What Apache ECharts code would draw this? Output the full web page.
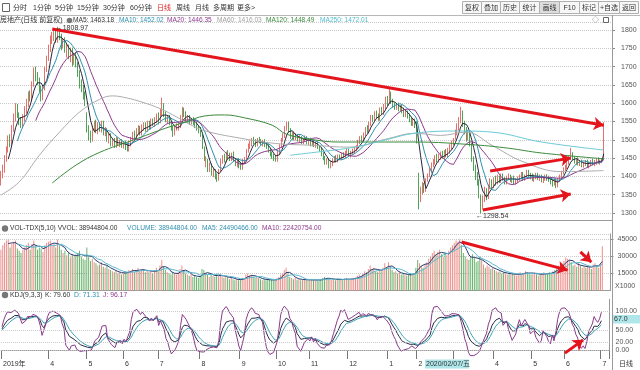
<!DOCTYPE html>
<html><head><meta charset="utf-8">
<script src="https://cdn.jsdelivr.net/npm/echarts@6/dist/echarts.min.js"></script>
<style>html,body{margin:0;padding:0;background:#fff}#c{width:640px;height:370px}</style>
</head><body><div id="c"></div>
<script>
// ---- month layout of the category axis ----
const monthLabels = ['2019年','4','5','6','7','8','9','10','11','12','1','2','3','4','5','6','7'];
const monthDays   = [26,21,20,19,23,22,20,18,21,22,16,20,22,21,18,20,1];

// ---- daily candles ----
const closes = [
1400,1420,1445,1470,1500,1490,1530,1560,1585,1570,
1550,1545,1560,1580,1600,1620,1615,1650,1685,1670,
1660,1640,1620,1640,1690,1720,1750,1770,1780,1790,
1775,1795,1780,1760,1770,1745,1750,1735,1745,1720,
1730,1705,1680,1650,1640,1620,1600,1530,1510,1500,
1530,1545,1525,1540,1530,1545,1520,1525,1500,1510,
1490,1495,1485,1500,1490,1495,1485,1490,1480,1475,
1490,1500,1515,1510,1525,1530,1520,1535,1540,1530,
1545,1535,1550,1545,1555,1565,1550,1575,1590,1570,
1555,1560,1545,1530,1520,1530,1535,1540,1560,1580,
1570,1555,1560,1550,1555,1545,1540,1530,1525,1515,
1480,1450,1440,1420,1430,1410,1415,1400,1395,1415,
1440,1450,1445,1460,1455,1450,1460,1445,1435,1440,
1430,1425,1440,1445,1470,1480,1490,1500,1495,1490,
1500,1495,1490,1495,1485,1480,1470,1460,1455,1450,
1445,1465,1480,1500,1510,1530,1545,1525,1510,1515,
1505,1510,1500,1505,1495,1500,1505,1495,1500,1490,
1495,1485,1490,1480,1475,1460,1450,1440,1445,1430,
1435,1445,1450,1445,1455,1450,1460,1455,1465,1470,
1460,1465,1470,1475,1480,1495,1505,1500,1515,1530,
1525,1545,1560,1555,1570,1565,1560,1580,1575,1590,
1610,1600,1625,1605,1595,1590,1595,1585,1590,1580,
1570,1575,1565,1555,1545,1550,1540,1495,1345,1360,
1375,1365,1390,1400,1420,1430,1440,1450,1445,1455,
1460,1455,1465,1460,1470,1480,1490,1500,1520,1535,
1555,1570,1545,1530,1510,1515,1490,1450,1430,1400,
1390,1350,1320,1340,1360,1345,1370,1385,1375,1390,
1385,1395,1390,1400,1395,1385,1395,1400,1390,1395,
1385,1390,1395,1400,1405,1395,1400,1410,1405,1400,
1395,1400,1405,1395,1400,1390,1395,1400,1395,1390,
1385,1380,1390,1375,1390,1400,1410,1420,1425,1440,
1450,1460,1450,1440,1445,1435,1440,1430,1435,1440,
1430,1435,1440,1435,1440,1445,1440,1440,1445,1540];
const opens = [
1385,1402,1418,1448,1472,1505,1492,1532,1562,1590,
1568,1552,1542,1558,1582,1598,1625,1612,1652,1690,
1672,1665,1642,1615,1640,1692,1722,1748,1772,1778,
1792,1772,1800,1782,1755,1772,1740,1755,1730,1748,
1715,1732,1708,1682,1655,1642,1625,1570,1525,1515,
1498,1528,1548,1522,1542,1528,1548,1518,1528,1498,
1512,1488,1497,1482,1502,1488,1497,1482,1492,1482,
1472,1488,1498,1518,1508,1522,1532,1518,1532,1542,
1528,1548,1532,1552,1542,1552,1568,1548,1572,1595,
1572,1552,1562,1548,1532,1518,1532,1532,1538,1558,
1582,1572,1552,1562,1548,1558,1548,1542,1532,1528,
1512,1478,1438,1442,1418,1432,1408,1418,1402,1392,
1418,1442,1452,1443,1462,1457,1448,1462,1445,1432,
1442,1432,1422,1442,1448,1470,1482,1488,1502,1495,
1488,1502,1497,1488,1497,1487,1482,1472,1462,1458,
1452,1448,1467,1482,1502,1512,1532,1548,1528,1508,
1517,1503,1512,1498,1507,1493,1502,1507,1493,1502,
1488,1497,1483,1492,1482,1477,1462,1452,1438,1447,
1428,1433,1443,1452,1443,1457,1448,1462,1453,1463,
1472,1458,1463,1468,1473,1478,1493,1507,1498,1512,
1532,1523,1543,1562,1553,1572,1567,1558,1582,1573,
1588,1612,1602,1628,1607,1597,1588,1597,1583,1592,
1582,1568,1577,1567,1557,1543,1552,1545,1395,1338,
1358,1377,1362,1392,1402,1418,1432,1438,1452,1443,
1453,1462,1453,1467,1458,1468,1478,1492,1505,1518,
1532,1552,1575,1547,1528,1505,1512,1488,1448,1428,
1402,1388,1345,1318,1342,1362,1345,1372,1387,1373,
1392,1383,1397,1388,1402,1393,1383,1397,1402,1388,
1397,1383,1388,1393,1398,1407,1393,1402,1412,1403,
1402,1393,1398,1407,1393,1402,1388,1393,1402,1397,
1392,1387,1378,1392,1373,1388,1398,1408,1422,1423,
1438,1448,1462,1452,1438,1447,1433,1442,1428,1433,
1442,1428,1433,1442,1433,1438,1447,1438,1442,1450];
const highs = [
1415,1432,1458,1482,1512,1515,1540,1572,1600,1598,
1575,1562,1570,1592,1612,1632,1635,1660,1698,1700,
1685,1670,1648,1650,1700,1730,1760,1785,1795,1802,
1800,1808.97,1806,1790,1778,1780,1762,1760,1752,1752,
1738,1740,1712,1690,1665,1650,1632,1575,1540,1525,
1538,1552,1555,1548,1548,1552,1552,1535,1532,1518,
1518,1502,1505,1508,1506,1500,1502,1497,1498,1490,
1498,1508,1522,1525,1532,1540,1538,1542,1548,1548,
1552,1552,1558,1558,1562,1572,1575,1585,1615,1600,
1578,1568,1568,1552,1538,1538,1545,1548,1568,1590,
1588,1578,1568,1568,1560,1562,1552,1548,1538,1535,
1515,1482,1455,1448,1438,1435,1422,1420,1408,1420,
1448,1458,1462,1468,1472,1465,1465,1468,1450,1448,
1450,1440,1448,1453,1475,1490,1498,1505,1508,1502,
1505,1508,1502,1500,1502,1492,1488,1478,1468,1462,
1458,1470,1488,1505,1518,1538,1550,1550,1532,1522,
1522,1518,1515,1512,1510,1505,1512,1510,1505,1506,
1502,1500,1495,1495,1486,1480,1466,1456,1450,1450,
1442,1450,1456,1458,1460,1460,1465,1466,1470,1476,
1475,1470,1476,1480,1486,1500,1510,1512,1520,1535,
1540,1550,1568,1568,1578,1580,1572,1588,1590,1598,
1618,1620,1640,1632,1612,1602,1600,1602,1596,1596,
1588,1582,1580,1572,1562,1558,1558,1550,1410,1372,
1385,1382,1395,1408,1425,1438,1448,1458,1462,1462,
1468,1470,1472,1475,1478,1488,1498,1505,1528,1545,
1562,1590,1580,1552,1535,1525,1520,1492,1455,1432,
1412,1392,1350,1348,1372,1368,1378,1395,1392,1398,
1402,1405,1402,1408,1408,1398,1402,1408,1405,1400,
1402,1395,1400,1405,1412,1412,1405,1418,1418,1410,
1408,1405,1410,1410,1405,1405,1400,1405,1406,1402,
1398,1392,1395,1395,1395,1405,1415,1425,1432,1446,
1458,1478,1466,1455,1450,1452,1445,1446,1440,1445,
1446,1440,1445,1448,1445,1450,1452,1446,1450,1548];
const lows = [
1375,1395,1410,1440,1465,1480,1485,1522,1550,1560,
1540,1532,1535,1550,1572,1590,1605,1605,1645,1660,
1650,1630,1605,1608,1635,1685,1715,1740,1762,1770,
1765,1765,1772,1745,1750,1738,1725,1720,1712,1700,
1705,1698,1672,1640,1630,1610,1592,1520,1498,1492,
1495,1520,1518,1515,1522,1520,1512,1510,1495,1490,
1482,1482,1478,1478,1485,1480,1478,1476,1472,1468,
1468,1482,1495,1502,1502,1515,1512,1512,1525,1522,
1522,1528,1528,1538,1535,1545,1542,1545,1565,1562,
1548,1545,1540,1525,1508,1512,1525,1525,1532,1550,
1562,1548,1548,1542,1542,1540,1532,1525,1518,1508,
1475,1442,1425,1412,1412,1402,1398,1392,1385,1388,
1412,1435,1438,1438,1448,1442,1442,1440,1428,1425,
1422,1418,1418,1435,1445,1465,1475,1482,1488,1480,
1482,1490,1485,1482,1480,1475,1465,1455,1448,1442,
1440,1440,1460,1478,1495,1505,1525,1520,1502,1500,
1498,1498,1495,1492,1488,1488,1495,1488,1486,1482,
1482,1480,1478,1475,1468,1455,1444,1432,1432,1422,
1422,1428,1438,1438,1438,1445,1445,1450,1450,1458,
1455,1452,1458,1462,1468,1475,1488,1495,1495,1508,
1518,1518,1538,1548,1548,1558,1552,1552,1568,1568,
1582,1592,1598,1598,1588,1582,1582,1578,1578,1572,
1562,1562,1558,1548,1538,1538,1532,1490,1310,1330,
1350,1355,1358,1385,1398,1412,1425,1432,1438,1438,
1445,1448,1448,1452,1452,1462,1472,1485,1500,1512,
1525,1545,1535,1515,1495,1498,1482,1440,1415,1390,
1375,1340,1298.54,1310,1330,1335,1338,1365,1365,1368,
1375,1378,1382,1382,1388,1378,1378,1390,1385,1382,
1378,1378,1382,1388,1392,1388,1388,1398,1398,1392,
1388,1385,1392,1390,1388,1384,1382,1388,1388,1385,
1378,1372,1375,1368,1370,1385,1395,1405,1415,1420,
1432,1445,1445,1435,1432,1430,1428,1425,1424,1428,
1425,1422,1428,1430,1428,1432,1435,1432,1436,1448];
// volume in units of 1000
const volumes = [
36000,40000,42000,44000,45000,38000,41000,43000,44000,37000,
35000,33000,36000,38000,40000,42000,36000,41000,44000,39000,
36000,38000,37000,34000,40000,42000,43000,44000,39000,41000,
38000,45000,40000,36000,33000,35000,31000,33000,29000,32000,
30000,31000,33000,35000,30000,28000,27000,38000,30000,26000,
28000,25000,24000,22000,23000,25000,21000,20000,22000,19000,
18000,17000,16000,18000,15000,16000,14000,15000,17000,16000,
18000,17000,19000,16000,18000,20000,17000,18000,19000,16000,
18000,16000,17000,15000,18000,20000,17000,22000,27000,21000,
18000,16000,15000,14000,16000,15000,14000,16000,19000,22000,
18000,15000,14000,13000,14000,12000,13000,12000,11000,13000,
19000,18000,15000,14000,12000,15000,13000,12000,14000,13000,
14000,12000,11000,13000,12000,10000,11000,10000,9000,10000,
9000,10000,11000,10000,14000,15000,13000,14000,12000,11000,
12000,11000,10000,9000,10000,9000,9500,10000,9000,8500,
9000,11000,12000,14000,15000,18000,20000,15000,12000,11000,
10000,11000,9500,10000,9000,9500,10000,9000,9500,9000,
10000,9000,9500,9000,8500,10000,11000,12000,10000,11000,
10000,9500,10000,9000,10500,9500,10000,9000,10500,11000,
10000,9500,10000,11000,11500,13000,14000,12000,15000,17000,
16000,19000,22000,18000,20000,17000,16000,19000,17000,20000,
24000,20000,25000,21000,18000,16000,17000,15000,16000,14000,
15000,14000,13000,14000,15000,13000,15000,20000,27000,24000,
22000,20000,23000,25000,28000,30000,33000,35000,31000,34000,
36000,32000,30000,33000,31000,35000,38000,40000,42000,44000,
43000,45000,40000,33000,30000,28000,27000,30000,32000,29000,
25000,26000,30000,27000,23000,20000,22000,21000,19000,20000,
18000,17000,16000,17000,15000,16000,15000,14000,15000,14000,
15000,14000,13000,15000,16000,14000,15000,17000,16000,15000,
14000,15000,16000,14000,13000,14000,15000,16000,14000,15000,
16000,15000,17000,18000,20000,22000,21000,24000,26000,29000,
28000,27000,25000,22000,23000,21000,24000,22000,20000,21000,
20000,22000,21000,19000,23000,24000,22000,20000,23000,38944.8];

// long moving averages: [candle index, value]
const ma60Pts = [[0,1349],[10,1385],[21,1458],[32,1521],[43,1576],[54,1611],[61,1620],[69,1614],[77,1603],[87,1585],[96,1562],[102,1545],[111,1525],[130,1505],[150,1490],[170,1485],[190,1480],[211,1503],[226,1518],[240,1512],[254,1521],[268,1485],[285,1440],[306,1413],[329,1416]];
const ma120Pts = [[28,1382],[41,1431],[54,1466],[72,1499],[90,1532],[101,1549],[111,1565],[122,1568],[133,1560],[148,1540],[156,1515],[171,1500],[184,1494],[226,1494],[259,1486],[277,1477],[295,1464],[329,1448]];
const ma250Pts = [[158,1458],[175,1468],[193,1480],[210,1500],[226,1518],[250,1524],[268,1521],[295,1494],[329,1472]];

// tick labels
const kdjTickLabels = [0,20,50,100];

// hand-drawn red annotations: [[index,value],[index,value]]
const priceArrows = [[[28,1803],[329,1540]],[[267,1415],[311,1450]],[[263,1308],[311,1352]]];
const volArrows = [[[252,42800],[310,18000]],[[317,34000],[323,25000]]];
const kdjArrows = [[[309,-8],[319,26]]];

// ---- build categories ----
const cats = [], catLabels = [];
monthLabels.forEach((m,k)=>{ for(let d=0; d<monthDays[k]; d++){ catLabels.push(d===0?m:''); cats.push(String(cats.length)); } });
for (let p=0;p<4;p++){ cats.push('p'+p); catLabels.push(''); }

function ma(arr, n){ return arr.map((v,i)=> i<n-1 ? '-' : +(arr.slice(i-n+1,i+1).reduce((a,b)=>a+b,0)/n).toFixed(2)); }
const kd = {K:[],D:[],J:[]};
(function(){ let k=50,d=50; for(let i=0;i<closes.length;i++){ const s=Math.max(0,i-8); let hh=-Infinity,ll=Infinity; for(let t=s;t<=i;t++){hh=Math.max(hh,highs[t]);ll=Math.min(ll,lows[t]);} const rsv = hh===ll?50:(closes[i]-ll)/(hh-ll)*100; k=(2*k+rsv)/3; d=(2*d+k)/3; kd.K.push(+k.toFixed(2)); kd.D.push(+d.toFixed(2)); kd.J.push(+(3*k-2*d).toFixed(2)); } })();

const UP='#e4716c', DOWN='#4fa354';
const candleData = closes.map((c,i)=>[opens[i],c,lows[i],highs[i]]);
const volData = volumes.map((v,i)=>({value:v, itemStyle:{color: closes[i]>=opens[i]?'#eb8f8a':'#6cb36e'}}));
const iMax = highs.indexOf(Math.max(...highs)), iMin = lows.indexOf(Math.min(...lows));

const FONT = '"Liberation Sans","Noto Sans CJK SC",sans-serif';
const f = s => s+'px '+FONT;
const arrowLine = arr => arr.map(a=>[{coord:a[0]},{coord:a[1]}]);
const redML = (arr) => ({silent:true, symbol:['none','arrow'], symbolSize:10, label:{show:false}, emphasis:{disabled:true},
  lineStyle:{color:'#e4141c', width:3, type:'solid'}, itemStyle:{color:'#e4141c'}, data: arrowLine(arr)});
const lbl = {fontSize:7, color:'#555', fontFamily:FONT};

const gridsY = [{top:22,height:198},{top:233.8,height:56.7},{top:299.3,height:58.5}];
const tickShow = (i)=> catLabels[i] !== '';

const xAxes = gridsY.map((g,gi)=>({type:'category', gridIndex:gi, data:cats, boundaryGap:true,
  axisLine:{show:true, lineStyle:{color:'#9a9a9a', width:1}},
  axisTick: gi===2 ? {show:true, interval:tickShow, length:9, lineStyle:{color:'#777'}} : {show:false},
  axisLabel: gi===2 ? {show:true, interval:tickShow, formatter:(v,idx)=>catLabels[idx], align:'left', padding:[0,0,0,1], margin:3, fontSize:7, color:'#333', fontFamily:FONT} : {show:false},
  splitLine:{show:false}}));

const dotted = {show:true, lineStyle:{color:'#c9c9c9', type:'dotted', width:1}};
const yAxes = [
 {type:'value', gridIndex:0, position:'right', min:1280.9, max:1821.9, minInterval:50, maxInterval:50, splitNumber:10, scale:true,
  axisLine:{show:true, lineStyle:{color:'#9a9a9a'}}, axisTick:{show:true,length:3,lineStyle:{color:'#888'}},
  axisLabel:Object.assign({showMinLabel:false, showMaxLabel:false, margin:9, formatter:v=>String(v)}, lbl), splitLine:dotted},
 {type:'value', gridIndex:1, position:'right', min:0, max:50000, interval:15000,
  axisLine:{show:true, lineStyle:{color:'#9a9a9a'}}, axisTick:{show:true,length:3,lineStyle:{color:'#888'}},
  axisLabel:Object.assign({showMinLabel:false, showMaxLabel:false, margin:7, formatter:v=> (v>0&&v<=45000)?String(v):''}, lbl), splitLine:dotted},
 {type:'value', gridIndex:2, position:'right', min:-20, max:130, interval:10,
  axisLine:{show:true, lineStyle:{color:'#9a9a9a'}}, axisTick:{show:false},
  axisLabel:Object.assign({margin:6, formatter:v=> kdjTickLabels.includes(v)? v.toFixed(2):''}, lbl), splitLine:{show:false}}
];

const lineS = (name, data, color, xi, extra) => Object.assign({name, type:'line', xAxisIndex:xi, yAxisIndex:xi, data, symbol:'none', showSymbol:false,
  lineStyle:{color, width:1}, itemStyle:{color}, emphasis:{disabled:true}, silent:true, animation:false}, extra||{});

const series = [
 {type:'candlestick', xAxisIndex:0, yAxisIndex:0, data:candleData, barWidth:1, silent:true,
  itemStyle:{color:UP, color0:DOWN, borderColor:UP, borderColor0:DOWN, borderWidth:1},
  markPoint:{silent:true, symbol:'circle', symbolSize:0.01, animation:false,
   label:{show:true, position:'right', distance:0, formatter:p=>'\u2190'+Number(p.value).toFixed(2), fontSize:7, color:'#333', fontFamily:FONT},
   data:[{coord:[iMax, highs[iMax]], value:highs[iMax], label:{offset:[-2,1]}},{coord:[iMin, lows[iMin]], value:lows[iMin], label:{offset:[-5,3]}}]},
  markLine: redML(priceArrows)},
 lineS('MA5', ma(closes,5), '#26263c', 0),
 lineS('MA10', ma(closes,10), '#2e90b0', 0),
 lineS('MA20', ma(closes,20), '#8c3a8c', 0),
 lineS('MA60', ma60Pts, '#acacac', 0, {smooth:0.4}),
 lineS('MA120', ma120Pts, '#3b8a3b', 0, {smooth:0.4}),
 lineS('MA250', ma250Pts, '#6ccad6', 0, {smooth:0.4}),
 {type:'bar', xAxisIndex:1, yAxisIndex:1, data:volData, barWidth:1, silent:true, animation:false, markLine: redML(volArrows)},
 lineS('VMA5', ma(volumes,5), '#2a3a70', 1),
 lineS('VMA10', ma(volumes,10), '#5ab8d0', 1),
 lineS('K', kd.K, '#2a2a46', 2, {markLine:{silent:true, symbol:'none', label:{show:false}, emphasis:{disabled:true}, lineStyle:{color:'#c9c9c9', type:'dotted', width:1}, data: kdjTickLabels.map(v=>({yAxis:v}))}}),
 lineS('D', kd.D, '#3aa3b5', 2),
 lineS('J', kd.J, '#8a3a8c', 2, {markLine: redML(kdjArrows)})
];

// ---- static UI text ----
const T = (x,y,text,fill,size,extra)=>Object.assign({type:'text', x, y, z:100, silent:true, style:{text, fill:fill||'#333', font:f(size||7), verticalAlign:'middle'}}, extra||{});
const R = (x,y,w,h,fill,stroke)=>({type:'rect', z:90, silent:true, shape:{x,y,width:w,height:h}, style:{fill:fill||'none', stroke:stroke||'none', lineWidth:1}});
const L = (x1,y1,x2,y2,c)=>({type:'line', z:95, silent:true, shape:{x1,y1,x2,y2}, style:{stroke:c||'#9a9a9a', lineWidth:1}});
const C = (cx,cy,r,fill)=>({type:'circle', z:100, silent:true, shape:{cx,cy,r}, style:{fill}});

const g = [];
g.push(R(0,0,640,15,'#ffffff'));
g.push(L(0,15.5,640,15.5,'#b8b8b8'));
g.push(R(2.5,3.5,7,8,'#fff','#666'));
[['分时',13],['1分钟',33],['5分钟',55],['15分钟',77],['30分钟',103],['60分钟',130],['日线',157,'#e02020'],['周线',176],['月线',195],['多周期',213],['更多>',237]]
 .forEach(a=>g.push(T(a[1],8,a[0],a[2]||'#333',7)));
const btn = [['复权',462],['叠加',481],['历史',500],['统计',519],['画线',539],['F10',559],['标记',579],['+自选',598],['返回',619],['',638]];
for (let i=0;i<btn.length-1;i++){ const x=btn[i][1], w=btn[i+1][1]-x; g.push(R(x+0.5,1.5,w,12,btn[i][0]==='画线'?'#dcdcdc':'#f7f7f7','#b0b0b0')); g.push(T(x+w/2+0.5,8,btn[i][0],'#333',7,{style:{text:btn[i][0],fill:'#333',font:f(7),verticalAlign:'middle',align:'center'}})); }
g.push(T(0,20.5,'房地产(日线 前复权)','#333',7));
g.push(C(69.5,20.5,2.8,'#777'));
[['MA5: 1463.18',73,'#333'],['MA10: 1452.02',119,'#2e90b0'],['MA20: 1446.35',167,'#8c3a8c'],['MA60: 1416.03',217,'#a0a0a0'],['MA120: 1448.49',266,'#3b8a3b'],['MA250: 1472.01',320,'#4fbccc']]
 .forEach(a=>g.push(T(a[1],20.5,a[0],a[2],6.6)));
g.push(T(592,20,'\u25C7','#666',7));
g.push(R(603.5,17.5,5,5,'#fff','#666'));
g.push(L(612.5,15,612.5,370,'#9a9a9a'));
g.push(C(5,228.5,3.2,'#777'));
g.push(T(10,228.5,'VOL-TDX(5,10) VVOL: 38944804.00','#333',6.6));
g.push(T(127,228.5,'VOLUME: 38944804.00','#2e8fb0',6.6));
g.push(T(202,228.5,'MA5: 24490466.00','#2e8fb0',6.6));
g.push(T(262,228.5,'MA10: 22420754.00','#8c3a8c',6.6));
g.push(T(615,286,'X1000','#555',7));
g.push(C(5,295,3.2,'#777'));
g.push(T(10,295,'KDJ(9,3,3)','#333',6.8));
g.push(T(45,295,'K: 79.60','#333',6.8));
g.push(T(74,295,'D: 71.31','#2e90b0',6.8));
g.push(T(103,295,'J: 96.17','#8c3a8c',6.8));
g.push(R(613,315,27,8.5,'#aee6ea'));
g.push(T(614,319.5,'67.0','#333',7));
g.push(R(425,359.5,44,9,'#aee6ea'));
g.push(T(426,364,'2020/02/07/五','#333',7));
g.push(T(619,364,'日线','#333',7));

const chart = echarts.init(document.getElementById('c'), null, {renderer:'canvas'});
chart.setOption({
  animation:false, backgroundColor:'#ffffff',
  grid: gridsY.map(gg=>({left:0, width:612, top:gg.top, height:gg.height, containLabel:false})),
  xAxis:xAxes, yAxis:yAxes, series, graphic:g
});
</script></body></html>
